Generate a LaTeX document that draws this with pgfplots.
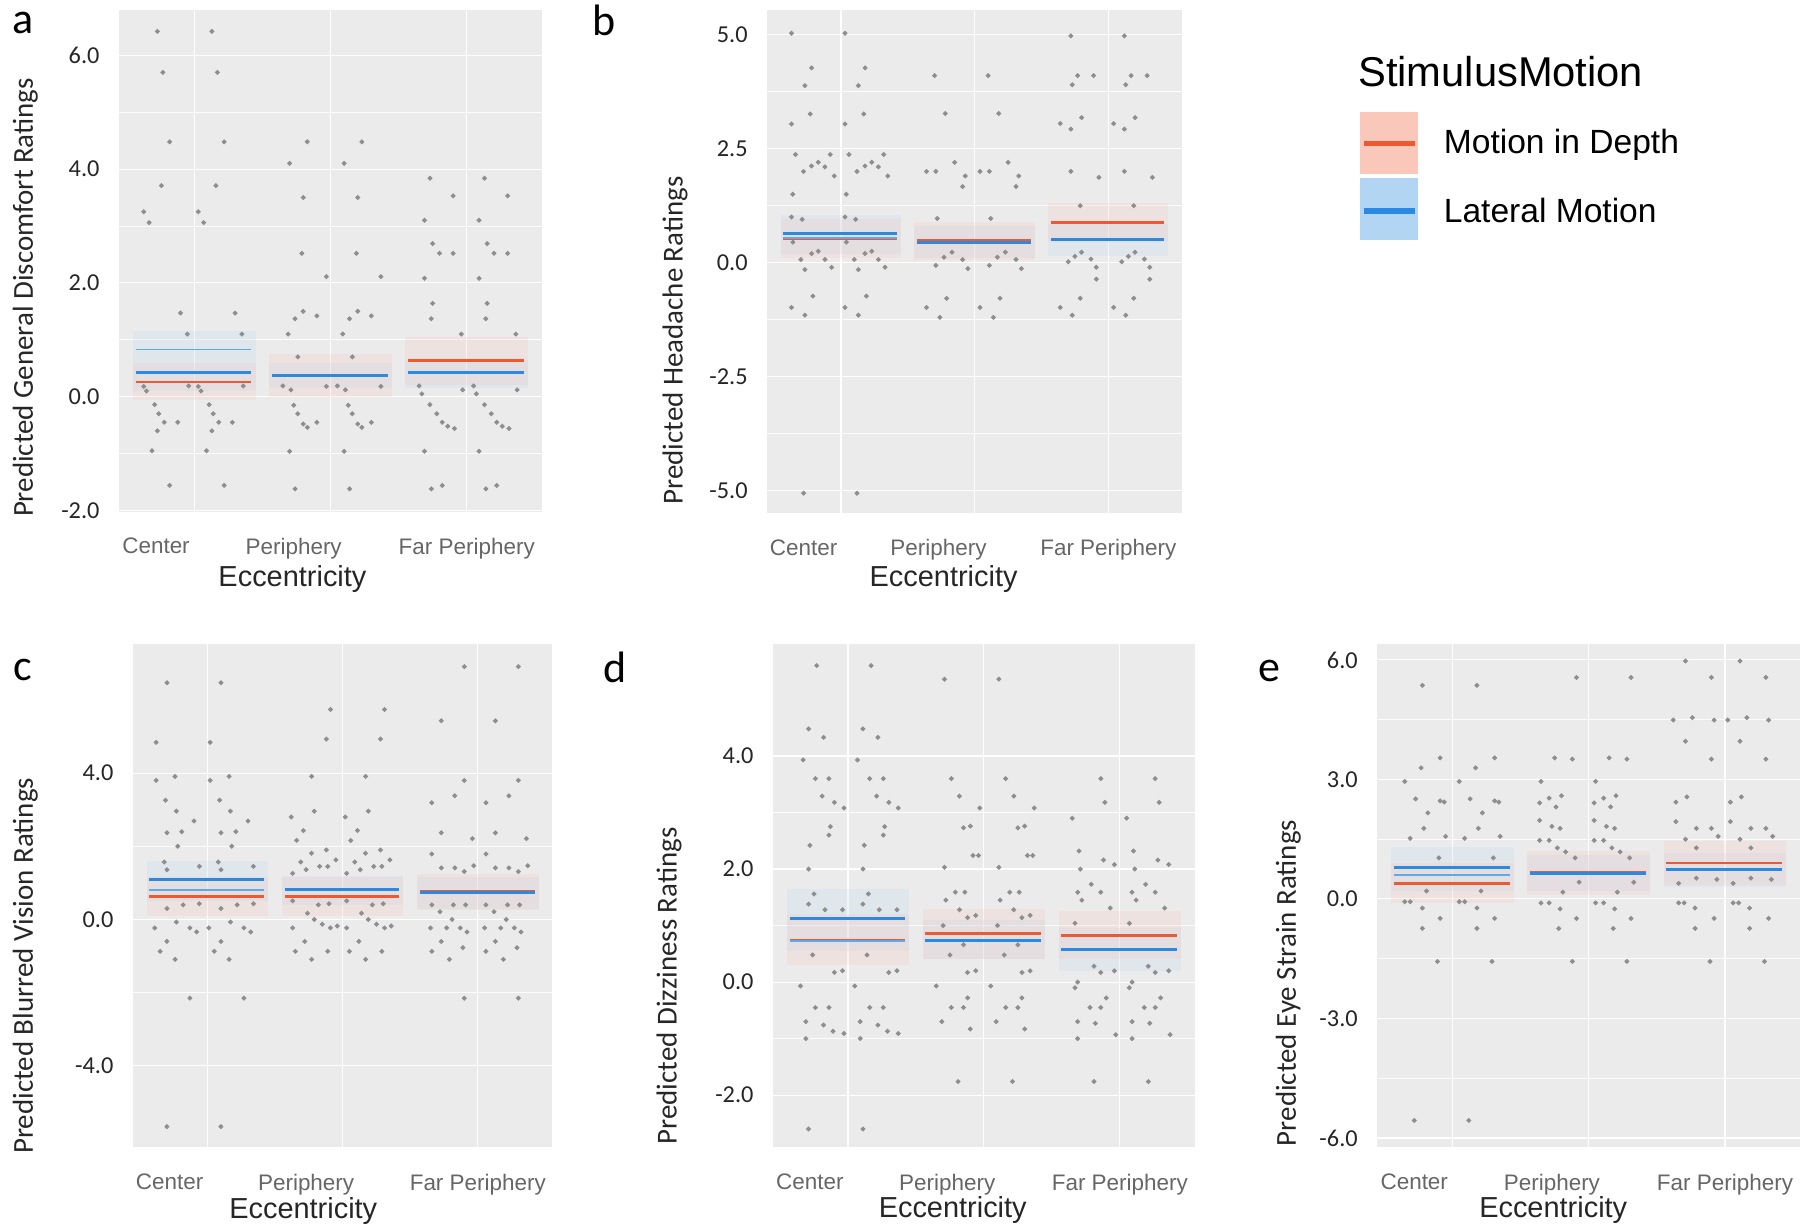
\documentclass[border=0pt]{standalone}
\usepackage{fontspec}
\setmainfont{Liberation Sans}
\newfontfamily\calibri{Carlito}
\usepackage{pgfplots}
\usepackage{pgfplotstable}
\pgfplotsset{compat=1.18}

\definecolor{ggbg}{HTML}{EBEBEB}
\definecolor{ptgrey}{HTML}{8E8E8E}
\definecolor{mred}{HTML}{EC5A34}
\definecolor{mblue}{HTML}{2A8AE2}
\definecolor{lblue}{HTML}{5DAAEA}
\definecolor{ribred}{HTML}{F8C2B2}
\definecolor{ribblue}{HTML}{AFD3F3}

% pale confidence band for one category
\newcommand{\rib}[5]{\addplot[fill=#5, draw=none, fill opacity=0.2, forget plot] coordinates {(#1,#3) (#2,#3) (#2,#4) (#1,#4)} -- cycle;}

\pgfplotsset{
  panel/.style={
    scale only axis, anchor=south west,
    xmin=0.45, xmax=3.55,
    axis background/.style={fill=ggbg},
    axis line style={draw=none},
    tick style={draw=none},
    xtick={0.72,1.73,3.0},
    xticklabels={Center,Periphery,Far Periphery},
    extra x ticks={1,2,3}, extra x tick labels={},
    extra x tick style={grid=major},
    ymajorgrids, yminorgrids, minor y tick num=1,
    grid style={white!97!ggbg, line width=0.5pt},
    minor grid style={white!85!ggbg, line width=0.3pt},
    xticklabel style={font=\fontsize{9.7}{11}\selectfont, text=black!60, yshift=-8pt},
    yticklabel style={font=\calibri\fontsize{10.5}{12}\selectfont, text=black!85, xshift=-5pt},
    /pgf/number format/.cd, fixed, fixed zerofill, precision=1, assume math mode=true,
    /pgfplots/.cd,
    xlabel={Eccentricity},
    xlabel style={anchor=center, font=\fontsize{12.5}{14}\selectfont, text=black!85},
    ylabel style={anchor=center, font=\calibri\fontsize{12.5}{14}\selectfont, text=black!85},
  },
  pts/.style={only marks, color=ptgrey, mark=*, mark size=0.85pt,
    mark options={draw=none, fill=ptgrey}, forget plot},
  redl/.style={mred, line width=1.2pt, unbounded coords=jump, forget plot},
  bluel/.style={mblue, line width=1.3pt, unbounded coords=jump, forget plot},
  lbluel/.style={lblue, line width=0.8pt, unbounded coords=jump, forget plot},
}

% jittered points (left copy of each cluster; the right copy sits 0.4 to the right)
\pgfplotstableread{
x y
0.73 6.42
0.77 5.70
0.82 4.48
0.76 3.71
0.63 3.25
0.67 3.06
0.90 1.47
0.95 1.10
0.63 0.18
0.65 0.10
0.71 -0.14
0.74 -0.30
0.78 -0.45
0.73 -0.60
0.88 -0.45
0.96 0.19
0.69 -0.95
0.82 -1.56
1.83 4.48
1.70 4.10
1.80 3.50
1.79 2.52
1.97 2.11
1.80 1.50
1.74 1.37
1.90 1.42
1.69 1.10
1.76 0.70
1.65 0.19
1.71 0.12
1.73 -0.15
1.76 -0.30
1.80 -0.48
1.83 -0.54
1.90 -0.45
1.97 0.18
1.70 -0.96
1.74 -1.62
2.73 3.84
2.90 3.53
2.69 3.10
2.75 2.69
2.80 2.52
2.90 2.52
2.69 2.08
2.75 1.64
2.74 1.37
2.96 1.10
2.65 0.19
2.67 0.05
2.73 -0.14
2.78 -0.30
2.82 -0.45
2.86 -0.52
2.91 -0.56
2.97 0.12
2.69 -0.96
2.74 -1.62
2.82 -1.56
}\pta

\pgfplotstableread{
x y
0.63 5.03
0.72 -5.05
0.78 4.27
0.73 3.88
0.77 3.26
0.63 3.04
0.66 2.37
0.72 2.00
0.78 2.12
0.83 2.20
0.88 2.10
0.92 2.37
0.95 1.90
0.64 1.50
0.63 1.00
0.71 0.95
0.64 0.45
0.70 0.07
0.73 -0.15
0.78 0.20
0.83 0.25
0.88 0.07
0.93 -0.10
0.79 -0.73
0.63 -0.98
0.73 -1.15
1.70 4.10
1.78 3.27
1.64 2.00
1.71 2.00
1.85 2.20
1.91 1.67
1.93 1.90
1.72 0.97
1.71 -0.06
1.77 0.12
1.83 0.23
1.91 0.07
1.95 -0.13
1.79 -0.78
1.64 -0.98
1.74 -1.20
2.72 4.97
2.73 3.90
2.77 4.10
2.89 4.10
2.64 3.05
2.72 2.93
2.80 3.18
2.72 2.00
2.93 1.87
2.79 1.25
2.70 0.02
2.75 0.14
2.80 0.23
2.87 0.08
2.91 -0.10
2.91 -0.36
2.79 -0.78
2.64 -0.98
2.73 -1.15
}\ptb

\pgfplotstableread{
x y
0.70 6.47
0.62 4.84
0.76 3.91
0.62 3.80
0.69 3.26
0.77 2.96
0.90 2.69
0.70 2.37
0.81 2.40
0.78 2.00
0.68 1.57
0.94 1.45
0.70 1.36
0.82 0.40
0.70 0.30
0.94 0.43
0.77 -0.07
0.61 -0.23
0.87 -0.23
0.92 -0.34
0.70 -0.60
0.65 -0.87
0.76 -1.09
0.87 -2.15
0.70 -5.66
1.91 5.74
1.88 4.93
1.77 3.91
1.79 2.96
1.62 2.80
1.71 2.43
1.66 2.16
1.77 1.81
1.88 1.90
1.95 1.63
1.69 1.57
1.83 1.45
1.89 1.45
1.63 1.26
1.73 1.36
1.63 0.51
1.82 0.40
1.90 0.43
1.74 0.17
1.79 0.00
1.63 -0.23
1.91 -0.23
1.85 -0.13
1.96 -0.18
1.72 -0.60
1.65 -0.87
1.77 -1.09
1.89 -0.87
2.90 6.91
2.73 5.43
2.90 3.80
2.83 3.38
2.66 3.19
2.73 2.37
2.96 2.21
2.66 1.79
2.73 1.41
2.83 1.41
2.90 1.31
2.97 1.47
2.66 0.40
2.82 0.40
2.91 0.40
2.72 0.21
2.81 0.00
2.65 -0.23
2.77 -0.23
2.87 -0.23
2.92 -0.34
2.73 -0.60
2.89 -0.77
2.66 -0.87
2.79 -1.09
2.90 -2.15
}\ptc

\pgfplotstableread{
x y
0.77 5.60
0.71 4.48
0.82 4.33
0.67 3.93
0.76 3.60
0.86 3.60
0.81 3.29
0.90 3.18
0.97 3.08
0.87 2.75
0.86 2.60
0.72 2.42
0.71 2.00
0.75 1.56
0.71 1.38
0.83 1.28
0.96 1.28
0.74 0.48
0.96 0.20
0.90 0.17
0.65 -0.07
0.76 -0.45
0.86 -0.45
0.69 -0.70
0.82 -0.76
0.89 -0.87
0.97 -0.91
0.69 -1.00
0.71 -2.60
1.71 5.36
1.76 3.60
1.82 3.29
1.97 3.08
1.85 2.73
1.90 2.76
1.92 2.24
1.96 2.24
1.71 2.03
1.79 1.59
1.86 1.59
1.72 1.45
1.82 1.28
1.88 1.14
1.94 1.18
1.70 1.00
1.75 0.48
1.85 0.66
1.88 0.17
1.94 0.20
1.65 -0.07
1.88 -0.28
1.76 -0.45
1.85 -0.45
1.69 -0.70
1.90 -0.83
1.81 -1.76
2.86 3.60
2.89 3.18
2.65 2.90
2.70 2.32
2.79 1.73
2.71 2.00
2.88 2.16
2.96 2.08
2.69 1.59
2.72 1.45
2.86 1.59
2.93 1.31
2.67 1.04
2.81 0.28
2.86 0.17
2.96 0.20
2.67 -0.10
2.69 0.00
2.90 -0.28
2.78 -0.45
2.86 -0.45
2.69 -0.70
2.82 -0.73
2.97 -0.93
2.69 -1.00
2.81 -1.76
}\ptd

\pgfplotstableread{
x y
0.78 5.36
0.65 2.95
0.77 3.29
0.91 3.54
0.73 2.51
0.82 2.16
0.91 2.46
0.94 2.43
0.79 1.77
0.69 1.52
0.95 1.57
0.90 1.03
0.81 0.20
0.65 -0.07
0.69 -0.07
0.78 -0.23
0.91 -0.49
0.78 -0.74
0.89 -1.57
0.72 -5.56
1.91 5.56
1.75 3.54
1.88 3.51
1.65 2.95
1.64 2.41
1.71 2.53
1.80 2.59
1.76 2.31
1.64 1.97
1.73 1.82
1.79 1.77
1.64 1.47
1.71 1.47
1.77 1.28
1.83 1.18
1.90 1.03
1.81 0.17
1.93 0.42
1.65 -0.10
1.71 -0.10
1.79 -0.25
1.91 -0.49
1.78 -0.74
1.88 -1.57
2.71 5.97
2.90 5.56
2.62 4.49
2.76 4.55
2.92 4.49
2.71 3.96
2.90 3.51
2.72 2.56
2.64 2.43
2.64 1.94
2.79 1.77
2.90 1.77
2.71 1.50
2.95 1.57
2.79 1.28
2.66 0.39
2.79 0.52
2.94 0.49
2.66 -0.10
2.70 -0.10
2.78 -0.23
2.92 -0.49
2.78 -0.74
2.89 -1.57
}\pte

\begin{document}
\begin{tikzpicture}
\path[use as bounding box] (0,0) rectangle (784pt,531.5pt);

% ---- a ----
\begin{axis}[panel, at={(51.5pt,310.5pt)}, width=182.5pt, height=216.5pt,
  ymin=-2.02, ymax=6.79, ytick={-2,0,2,4,6},
  ylabel={Predicted General Discomfort Ratings},
  ylabel style={at={(axis description cs:-0.222,0.427)}},
  xlabel style={at={(axis description cs:0.41,-0.134)}}]
\rib{0.55}{1.45}{0.10}{1.15}{ribblue}
\rib{0.55}{1.45}{-0.05}{0.60}{ribred}
\rib{1.55}{2.45}{0.15}{0.60}{ribblue}
\rib{1.55}{2.45}{0.00}{0.75}{ribred}
\rib{2.55}{3.45}{0.15}{0.65}{ribblue}
\rib{2.55}{3.45}{0.20}{1.05}{ribred}
\addplot[pts] table[x=x, y=y] {\pta};
\addplot[pts] table[x expr=\thisrow{x}+0.4, y=y] {\pta};
\addplot[redl] coordinates {(0.57,0.26) (1.42,0.26) (1.5,nan) (1.57,0.38) (2.42,0.38) (2.5,nan) (2.57,0.63) (3.42,0.63)};
\addplot[lbluel] coordinates {(0.57,0.83) (1.42,0.83)};
\addplot[bluel] coordinates {(0.57,0.42) (1.42,0.42) (1.5,nan) (1.57,0.37) (2.42,0.37) (2.5,nan) (2.57,0.42) (3.42,0.42)};
\end{axis}

% ---- b ----
\begin{axis}[panel, at={(331.5pt,310pt)}, width=179pt, height=217pt,
  ymin=-5.48, ymax=5.53, ytick={-5,-2.5,0,2.5,5},
  ylabel={Predicted Headache Ratings},
  ylabel style={at={(axis description cs:-0.223,0.343)}},
  xlabel style={at={(axis description cs:0.425,-0.131)}}]
\rib{0.55}{1.45}{0.20}{1.05}{ribblue}
\rib{0.55}{1.45}{0.10}{0.95}{ribred}
\rib{1.55}{2.45}{0.10}{0.80}{ribblue}
\rib{1.55}{2.45}{0.05}{0.90}{ribred}
\rib{2.55}{3.45}{0.15}{0.85}{ribblue}
\rib{2.55}{3.45}{0.45}{1.30}{ribred}
\addplot[pts] table[x=x, y=y] {\ptb};
\addplot[pts] table[x expr=\thisrow{x}+0.4, y=y] {\ptb};
\addplot[redl] coordinates {(0.57,0.52) (1.42,0.52) (1.5,nan) (1.57,0.48) (2.42,0.48) (2.5,nan) (2.57,0.88) (3.42,0.88)};
\addplot[lbluel] coordinates {(0.57,0.55) (1.42,0.55)};
\addplot[bluel] coordinates {(0.57,0.63) (1.42,0.63) (1.5,nan) (1.57,0.44) (2.42,0.44) (2.5,nan) (2.57,0.51) (3.42,0.51)};
\end{axis}

% ---- c ----
\begin{axis}[panel, at={(57.5pt,36pt)}, width=181pt, height=217.5pt,
  ymin=-6.22, ymax=7.54, ytick={-4,0,4},
  ylabel={Predicted Blurred Vision Ratings},
  ylabel style={at={(axis description cs:-0.257,0.36)}},
  xlabel style={at={(axis description cs:0.406,-0.126)}}]
\rib{0.55}{1.45}{0.50}{1.60}{ribblue}
\rib{0.55}{1.45}{0.10}{1.15}{ribred}
\rib{1.55}{2.45}{0.40}{1.20}{ribblue}
\rib{1.55}{2.45}{0.10}{1.15}{ribred}
\rib{2.55}{3.45}{0.30}{1.15}{ribblue}
\rib{2.55}{3.45}{0.25}{1.25}{ribred}
\addplot[pts] table[x=x, y=y] {\ptc};
\addplot[pts] table[x expr=\thisrow{x}+0.4, y=y] {\ptc};
\addplot[redl] coordinates {(0.57,0.63) (1.42,0.63) (1.5,nan) (1.57,0.63) (2.42,0.63) (2.5,nan) (2.57,0.76) (3.42,0.76)};
\addplot[lbluel] coordinates {(0.57,0.80) (1.42,0.80)};
\addplot[bluel] coordinates {(0.57,1.08) (1.42,1.08) (1.5,nan) (1.57,0.82) (2.42,0.82) (2.5,nan) (2.57,0.74) (3.42,0.74)};
\end{axis}

% ---- d ----
\begin{axis}[panel, at={(334pt,36pt)}, width=182pt, height=217.5pt,
  ymin=-2.92, ymax=5.99, ytick={-2,0,2,4},
  ylabel={Predicted Dizziness Ratings},
  ylabel style={at={(axis description cs:-0.247,0.32)}},
  xlabel style={at={(axis description cs:0.426,-0.124)}}]
\rib{0.55}{1.45}{0.55}{1.65}{ribblue}
\rib{0.55}{1.45}{0.30}{1.20}{ribred}
\rib{1.55}{2.45}{0.40}{1.10}{ribblue}
\rib{1.55}{2.45}{0.40}{1.30}{ribred}
\rib{2.55}{3.45}{0.20}{0.95}{ribblue}
\rib{2.55}{3.45}{0.40}{1.25}{ribred}
\addplot[pts] table[x=x, y=y] {\ptd};
\addplot[pts] table[x expr=\thisrow{x}+0.4, y=y] {\ptd};
\addplot[redl] coordinates {(0.57,0.74) (1.42,0.74) (1.5,nan) (1.57,0.86) (2.42,0.86) (2.5,nan) (2.57,0.82) (3.42,0.82)};
\addplot[lbluel] coordinates {(0.57,0.72) (1.42,0.72)};
\addplot[bluel] coordinates {(0.57,1.13) (1.42,1.13) (1.5,nan) (1.57,0.74) (2.42,0.74) (2.5,nan) (2.57,0.57) (3.42,0.57)};
\end{axis}

% ---- e ----
\begin{axis}[panel, at={(595pt,36pt)}, width=182.5pt, height=217.5pt,
  ymin=-6.23, ymax=6.41, ytick={-6,-3,0,3,6},
  ylabel={Predicted Eye Strain Ratings},
  ylabel style={at={(axis description cs:-0.211,0.326)}},
  xlabel style={at={(axis description cs:0.416,-0.124)}}]
\rib{0.55}{1.45}{0.20}{1.30}{ribblue}
\rib{0.55}{1.45}{-0.10}{0.90}{ribred}
\rib{1.55}{2.45}{0.20}{1.10}{ribblue}
\rib{1.55}{2.45}{0.10}{1.20}{ribred}
\rib{2.55}{3.45}{0.30}{1.15}{ribblue}
\rib{2.55}{3.45}{0.35}{1.45}{ribred}
\addplot[pts] table[x=x, y=y] {\pte};
\addplot[pts] table[x expr=\thisrow{x}+0.4, y=y] {\pte};
\addplot[redl] coordinates {(0.57,0.38) (1.42,0.38) (1.5,nan) (1.57,0.66) (2.42,0.66) (2.5,nan) (2.57,0.90) (3.42,0.90)};
\addplot[lbluel] coordinates {(0.57,0.60) (1.42,0.60)};
\addplot[bluel] coordinates {(0.57,0.78) (1.42,0.78) (1.5,nan) (1.57,0.64) (2.42,0.64) (2.5,nan) (2.57,0.73) (3.42,0.73)};
\end{axis}

% panel letters
\node[anchor=base, font=\calibri\fontsize{19}{21}\selectfont] at (10pt,517pt) {a};
\node[anchor=base, font=\calibri\fontsize{19}{21}\selectfont] at (261pt,516pt) {b};
\node[anchor=base, font=\calibri\fontsize{19}{21}\selectfont] at (10pt,237.5pt) {c};
\node[anchor=base, font=\calibri\fontsize{19}{21}\selectfont] at (265.5pt,236.5pt) {d};
\node[anchor=base, font=\calibri\fontsize{19}{21}\selectfont] at (548.5pt,237pt) {e};

% legend
\node[anchor=west, inner sep=0pt, font=\fontsize{18}{20}\selectfont] at (586.5pt,500.5pt) {StimulusMotion};
\fill[ribred!90] (587.5pt,456.5pt) rectangle (612.5pt,483pt);
\draw[mred, line width=2.5pt] (589pt,469.5pt) -- (611pt,469.5pt);
\fill[ribblue!95] (587.5pt,428pt) rectangle (612.5pt,454.5pt);
\draw[mblue, line width=2.5pt] (589pt,440.5pt) -- (611pt,440.5pt);
\node[anchor=base west, inner sep=0pt, font=\fontsize{14.5}{16}\selectfont] at (623.5pt,465pt) {Motion in Depth};
\node[anchor=base west, inner sep=0pt, font=\fontsize{14.5}{16}\selectfont] at (623.5pt,435.5pt) {Lateral Motion};
\end{tikzpicture}
\end{document}
